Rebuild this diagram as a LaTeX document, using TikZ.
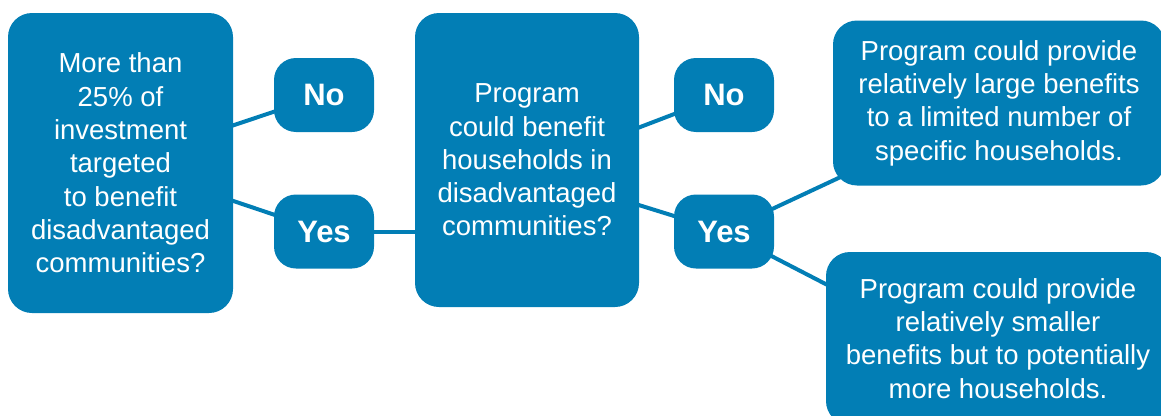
\documentclass[tikz,border=0pt]{standalone}
\usepackage{fontspec}
\setmainfont{Liberation Sans}
\usetikzlibrary{backgrounds, calc}
\definecolor{flowblue}{RGB}{2,126,181}

\begin{document}
\begin{tikzpicture}[
    x=1pt, y=-1pt,
    question/.style={rectangle, fill=flowblue, text=white, align=center, rounded corners=24pt, inner sep=0pt, font=\fontsize{27.5}{33.3}\selectfont},
    answer/.style={rectangle, fill=flowblue, text=white, rounded corners=22pt, minimum width=100pt, minimum height=74pt, inner sep=0pt, font=\fontsize{31}{36}\selectfont\bfseries},
    line/.style={draw=flowblue, line width=4pt}
]
    \useasboundingbox (0,0) rectangle (1161,415);
    \clip (0,0) rectangle (1161,415);

    \node [question, minimum width=225pt, minimum height=300pt] (share) at (120.5,163) {More than\\25\% of\\investment\\targeted\\to benefit\\disadvantaged\\communities?};
    \node [answer] (no1) at (324,95) {No};
    \node [answer] (yes1) at (324,231.5) {Yes};
    \node [question, minimum width=224pt, minimum height=294pt] (benefit) at (527,160) {Program\\could benefit\\households in\\disadvantaged\\communities?};
    \node [answer] (no2) at (724,95) {No};
    \node [answer] (yes2) at (724,231.5) {Yes};
    \node [question, minimum width=332pt, minimum height=165pt] (large) at (999,103) {Program could provide\\relatively large benefits\\to a limited number of\\specific households.};
    \node [question, minimum width=344pt, minimum height=173pt] (small) at (998,338.5) {Program could provide\\relatively smaller\\benefits but to potentially\\more households.};

    \begin{scope}[on background layer]
        \path [line] (share.center) -- (no1.center);
        \path [line] (share.center) -- (yes1.center);
        \path [line] (yes1.center) -- (yes1 -| benefit);
        \path [line] ($(benefit.center)!0.07!(benefit.south)$) -- (no2.center);
        \path [line] ($(benefit.center)!0.07!(benefit.south)$) -- (yes2.center);
        \path [line] (yes2.center) -- (large.center);
        \path [line] (yes2.center) -- ($(small.center)!0.4!(small.south)$);
    \end{scope}
\end{tikzpicture}
\end{document}
